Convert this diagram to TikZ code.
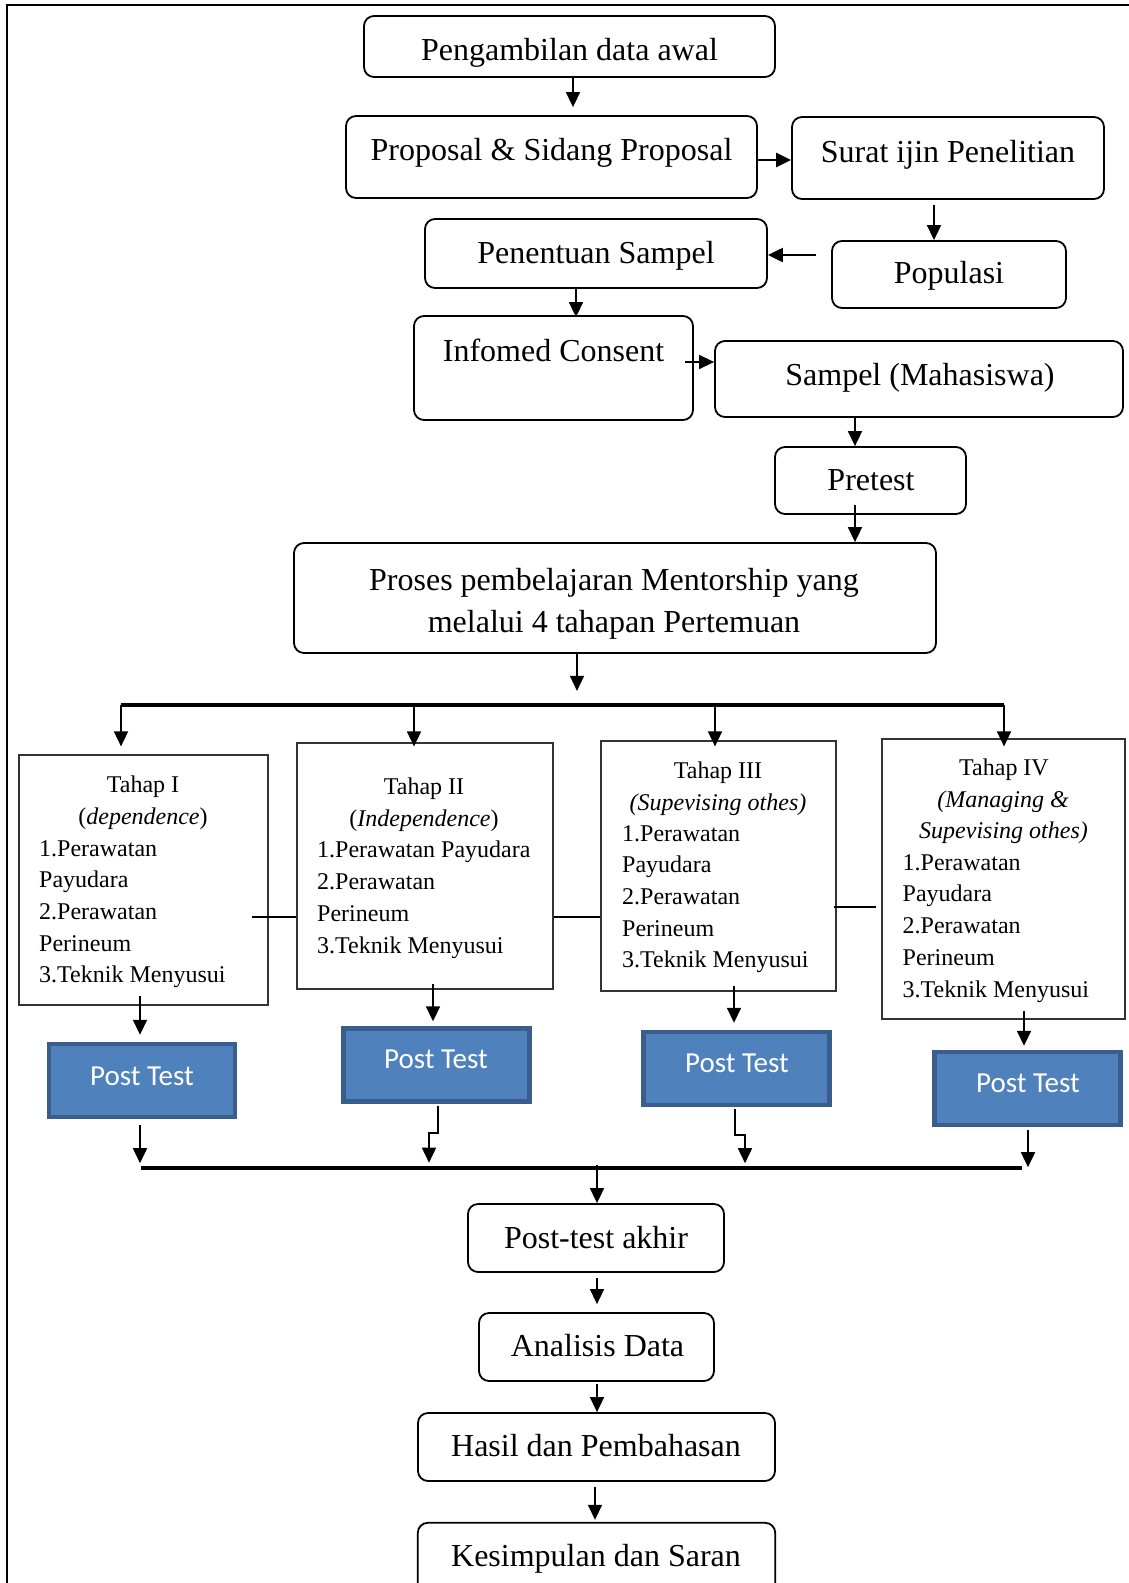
\documentclass[tikz,border=0pt]{standalone}
\usepackage{fontspec}
\setmainfont{Liberation Serif}
\newfontfamily\ptfont{Carlito}
\usetikzlibrary{arrows.meta,calc}
\definecolor{ptfill}{HTML}{4F81BD}
\definecolor{ptborder}{HTML}{3A5E8C}
\begin{document}
\begin{tikzpicture}[x=1pt,y=-1pt,
  rbox/.style={draw, line width=1.8pt, rounded corners=10pt, inner sep=0pt},
  tbox/.style={draw=black!80, line width=1.2pt, inner sep=0pt},
  ptbox/.style={draw=ptborder, fill=ptfill, line width=4.4pt, inner sep=0pt, minimum width=186pt, minimum height=73pt},
  big/.style={font=\fontsize{32}{40}\selectfont, inner sep=0pt, anchor=base},
  small/.style={font=\fontsize{24}{32}\selectfont, inner sep=0pt},
  pttxt/.style={font=\ptfont\fontsize{29}{35}\selectfont, text=white, inner sep=0pt, anchor=base},
  arr/.style={line width=1.6pt, -{Triangle[length=15pt,width=14pt]}},
  conn/.style={line width=1.5pt},
  bar/.style={line width=4pt}]
\useasboundingbox (0,0) rectangle (1129,1583);
% frame
\draw[line width=2.5pt] (7,1583) -- (7,5) -- (1129,5);

% upper flow boxes
\node[rbox, minimum width=411pt, minimum height=61pt] (pa) at (569.5,46.5) {};
\node[big] (paT) at (569.5,60.5) {Pengambilan data awal};
\node[rbox, minimum width=411pt, minimum height=82pt] (pp) at (551.5,157) {};
\node[big] (ppT) at (551.5,160.7) {Proposal \& Sidang Proposal};
\node[rbox, minimum width=312pt, minimum height=82pt] (su) at (948,158) {};
\node[big] (suT) at (948,162) {Surat ijin Penelitian};
\node[rbox, minimum width=342pt, minimum height=69pt] (pe) at (596,253.5) {};
\node[big] (peT) at (596,263.3) {Penentuan Sampel};
\node[rbox, minimum width=234pt, minimum height=67pt] (po) at (949,274.5) {};
\node[big] (poT) at (949,283.3) {Populasi};
\node[rbox, minimum width=279pt, minimum height=104pt] (ic) at (553.5,368) {};
\node[big] (icT) at (553.5,361.7) {Infomed Consent};
\node[rbox, minimum width=408pt, minimum height=76pt] (sm) at (919,379) {};
\node[big] (smT) at (920,385) {Sampel (Mahasiswa)};
\node[rbox, minimum width=191pt, minimum height=67pt] (pr) at (870.5,480.5) {};
\node[big] (prT) at (871,490.7) {Pretest};
\node[rbox, minimum width=642pt, minimum height=110pt] (ps) at (615,598) {};
\node[big] (psT1) at (614,590) {Proses pembelajaran Mentorship yang};
\node[big] (psT2) at (614,632) {melalui 4 tahapan Pertemuan};

% upper connectors
\draw[arr] ($(pa.south)+(3.5,0)$) -- ($(pp.north)+(21.5,-8)$);
\draw[arr, line width=2.6pt] ($(pp.east)+(0,3)$) -- ($(su.west)+(0,2)$);
\draw[arr] ($(su.south)+(-14,5)$) -- ($(po.north)+(-15,0)$);
\draw[arr, line width=2.2pt] ($(po.west)+(-15,-19.5)$) -- ($(pe.east)+(0,1.5)$);
\draw[arr] ($(pe.south)+(-20,0)$) -- ($(ic.north)+(22.5,2)$);
\draw[arr] ($(ic.east)+(-9,-6)$) -- ($(sm.west)+(0,-17)$);
\draw[arr] ($(sm.south)+(-64,0)$) -- ($(pr.north)+(-15.5,0)$);
\draw[arr] ($(pr.south)+(-15.5,-10)$) -- ($(ps.north)+(240,0)$);
\draw[arr] ($(ps.south)+(-38,0)$) -- ($(ps.south)+(-38,37)$);

% top distribution bar
\coordinate (barL) at (121,705);
\coordinate (barR) at (1004,705);
\draw[bar] (barL) -- (barR);

% Tahap boxes
\node[tbox, minimum width=249pt, minimum height=250pt] (t1) at (143.5,880) {};
\node[tbox, minimum width=256pt, minimum height=246pt] (t2) at (425,866) {};
\node[tbox, minimum width=235pt, minimum height=250pt] (t3) at (718.5,866) {};
\node[tbox, minimum width=243pt, minimum height=280pt] (t4) at (1003.5,879) {};

\draw[arr] (barL) -- ($(t1.north)+(-22.5,-8)$);
\draw[arr] ($(barL -| t2.north)+(-11,0)$) -- ($(t2.north)+(-11,4)$);
\draw[arr] ($(barL -| t3.north)+(-3.5,0)$) -- ($(t3.north)+(-3.5,6)$);
\draw[arr] (barR) -- ($(t4.north)+(0.5,8)$);

% Tahap texts
\node[small, anchor=base] (t1h1) at (143,792) {Tahap I};
\node[small, anchor=base] (t1h2) at (143,824) {(\textit{dependence})};
\foreach \s [count=\i] in {1.Perawatan, Payudara, 2.Perawatan, Perineum, 3.Teknik Menyusui}
  \node[small, anchor=base west] (t1l\i) at (39,{856+(\i-1)*31.7}) {\s};
\node[small, anchor=base] (t2h1) at (424,794) {Tahap II};
\node[small, anchor=base] (t2h2) at (424,826) {(\textit{Independence})};
\foreach \s [count=\i] in {1.Perawatan Payudara, 2.Perawatan, Perineum, 3.Teknik Menyusui}
  \node[small, anchor=base west] (t2l\i) at (317,{857+(\i-1)*32}) {\s};
\node[small, anchor=base] (t3h1) at (718,778.3) {Tahap III};
\node[small, anchor=base] (t3h2) at (718,810) {\textit{(Supevising othes)}};
\foreach \s [count=\i] in {1.Perawatan, Payudara, 2.Perawatan, Perineum, 3.Teknik Menyusui}
  \node[small, anchor=base west] (t3l\i) at (622,{841+(\i-1)*31.7}) {\s};
\node[small, anchor=base] (t4h1) at (1004,775) {Tahap IV};
\node[small, anchor=base] (t4h2) at (1003,807.3) {\textit{(Managing \&}};
\node[small, anchor=base] (t4h3) at (1003.5,838.5) {\textit{Supevising othes)}};
\foreach \s [count=\i] in {1.Perawatan, Payudara, 2.Perawatan, Perineum, 3.Teknik Menyusui}
  \node[small, anchor=base west] (t4l\i) at (902.5,{870+(\i-1)*31.9}) {\s};

% lines between Tahap boxes
\draw[conn] ($(t1.east)+(-17,37)$) -- ($(t2.west)+(0,51)$);
\draw[conn] ($(t2.east)+(0,51)$) -- ($(t3.west)+(0,51)$);
\draw[conn] ($(t3.east)+(-3,41)$) -- ($(t4.west)+(-5,28)$);

% Post Test boxes
\node[ptbox] (pt1) at (142,1080.5) {};
\node[pttxt] (pt1T) at (142,1085) {Post Test};
\node[ptbox] (pt2) at (436.5,1065) {};
\node[pttxt] (pt2T) at (436,1068) {Post Test};
\node[ptbox] (pt3) at (736.5,1068.5) {};
\node[pttxt] (pt3T) at (737,1072) {Post Test};
\node[ptbox] (pt4) at (1027.5,1088.5) {};
\node[pttxt] (pt4T) at (1028,1092) {Post Test};

\draw[arr] ($(t1.south)+(-3.5,-10)$) -- ($(pt1.north)+(-2,-7)$);
\draw[arr] ($(t2.south)+(8,-6)$) -- ($(pt2.north)+(-3.5,-5)$);
\draw[arr] ($(t3.south)+(15.5,-6)$) -- ($(pt3.north)+(-2.5,-7)$);
\draw[arr] ($(t4.south)+(20.5,-9)$) -- ($(pt4.north)+(-3.5,-4)$);

% bottom collecting bar
\coordinate (barBL) at (141,1168);
\coordinate (barBR) at (1022,1168);
\draw[bar] (barBL) -- (barBR);
\draw[arr] ($(pt1.south)+(-2,6)$) -- ($(pt1.south)+(-2,44)$);
\draw[arr] ($(pt2.south)+(1.5,2)$) -- ++(0,27) -- ++(-9,0) -- ++(0,30);
\draw[arr] ($(pt3.south)+(-1.5,2)$) -- ++(0,26) -- ++(10,0) -- ++(0,28);
\draw[arr] ($(pt4.south)+(0.5,3)$) -- ++(0,37);

% lower flow
\node[rbox, minimum width=256pt, minimum height=68pt] (pta) at (596,1238) {};
\node[big] (ptaT) at (596,1248.3) {Post-test akhir};
\node[rbox, minimum width=235pt, minimum height=68pt] (ad) at (596.5,1347) {};
\node[big] (adT) at (597.5,1356.7) {Analisis Data};
\node[rbox, minimum width=357pt, minimum height=68pt] (hp) at (596.5,1447) {};
\node[big] (hpT) at (596,1456.7) {Hasil dan Pembahasan};
\node[inner sep=0pt, minimum width=357pt, minimum height=60pt] (ks) at (596.5,1553) {};
\draw[line width=1.8pt, rounded corners=10pt] (ks.south west) -- (ks.north west) -- (ks.north east) -- (ks.south east);
\node[big] (ksT) at (596,1566.7) {Kesimpulan dan Saran};

\draw[arr] ($(barBL -| pta.north)+(1,-3)$) -- ($(pta.north)+(1,0)$);
\draw[arr] ($(pta.south)+(1,5)$) -- ($(ad.north)+(0.5,-8)$);
\draw[arr] ($(ad.south)+(0.5,2)$) -- ($(hp.north)+(0.5,0)$);
\draw[arr] ($(hp.south)+(-1.5,5)$) -- ($(ks.north)+(-1.5,-3)$);
\end{tikzpicture}
\end{document}
